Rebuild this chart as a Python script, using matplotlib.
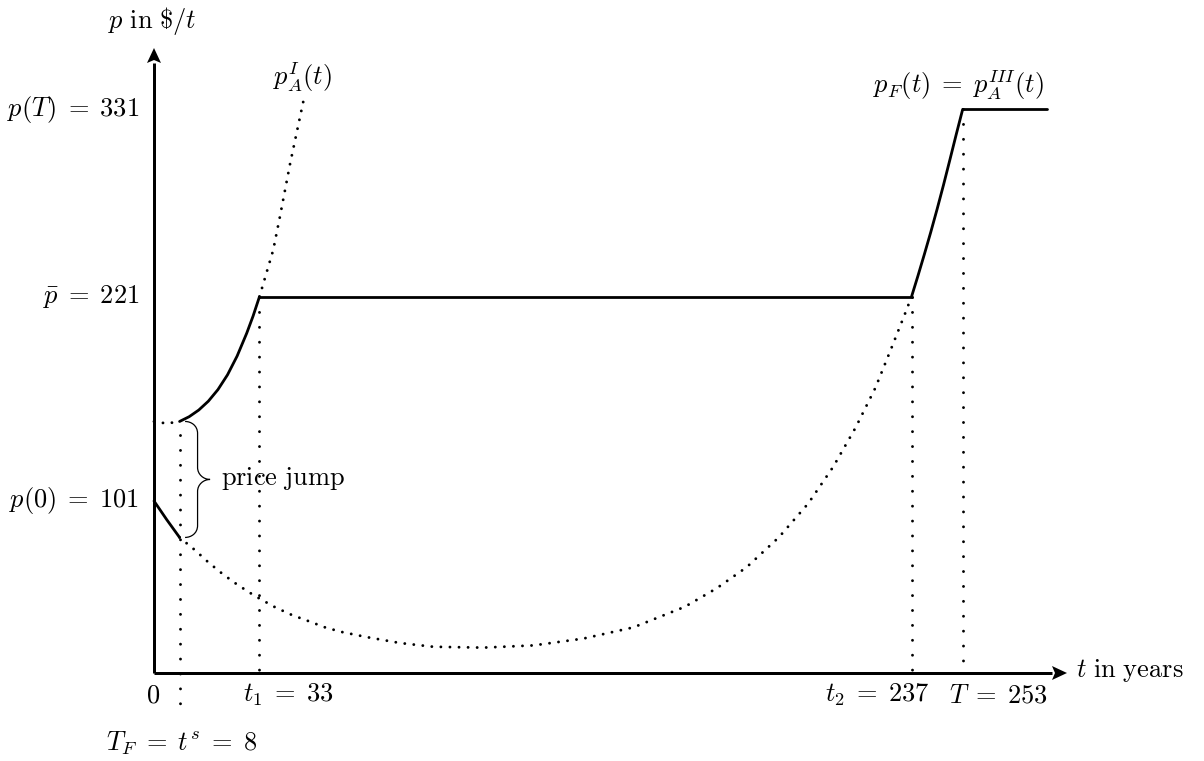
import matplotlib
matplotlib.use("Agg")
import matplotlib.pyplot as plt
from matplotlib.path import Path
from matplotlib.patches import PathPatch

plt.rcParams['mathtext.fontset'] = 'cm'
plt.rcParams['font.family'] = ['DejaVu Serif']

# ---------------- data ----------------
t_s, t_1, t_2, T_end = 8, 33, 237, 253
p_0, p_bar, p_T = 101, 221, 331

# p_A^I : dotted lead-in, solid part, dotted continuation
upI_lead_t = [0, 4, 8]
upI_lead_p = [147.7, 146.5, 147.7]
upI_solid_t = [8, 11, 14, 17, 20, 23, 26, 29, 31, 33]
upI_solid_p = [147.7, 150.5, 154.4, 159.6, 166.4, 175.1, 186.1, 199.5, 209.6, 221]
upI_ext_t = [33, 37.3, 39.4, 42.6, 46.7]
upI_ext_p = [221, 248.4, 268.0, 299.3, 335.5]

# initial solid segment from p(0)
low_solid_t = [0, 4, 8]
low_solid_p = [101, 90.0, 79.6]

# p_A^III : dotted U-shaped curve
lowIII_t = [8, 12.8, 17.0, 21.5, 25.9, 30.6, 33.2, 37.9, 43.1, 48.3, 53.5, 58.7,
            66.5, 77, 87.4, 103, 118.7, 134.3, 150, 166.1, 176, 185.4, 195.5,
            204.7, 212.5, 219.5, 225.7, 231, 235, 237]
lowIII_p = [79.6, 72.2, 65.0, 58.1, 52.1, 46.4, 43.5, 38.6, 34.1, 30.5, 26.8, 24.1,
            21.1, 17.6, 15.4, 14.9, 16.2, 20.2, 26.8, 38.9, 49.7, 62.1, 79.7,
            99.6, 121.1, 144.1, 167.5, 192.2, 211.2, 221]

# flat at p_bar, rise p_F = p_A^III, flat at p(T)
flat_t = [33, 237]
flat_p = [221, 221]
rise_t = [237, 239, 241, 243, 245, 247, 249, 251, 253]
rise_p = [221, 233.2, 245.8, 258.8, 272.4, 286.6, 301.4, 316.4, 331]
top_t = [253, 279.3]
top_p = [331, 331]

# ---------------- layout: data <-> pixel mapping ----------------
W, H = 1204, 761
X0, SX = 154.0, 3.1964   # pixel x of t=0, px per year
Y0, SY = 673.0, 1.703    # pixel y (from top) of p=0, px per $/t

def tx(px):
    return (px - X0) / SX

def py(pyx):
    return (Y0 - pyx) / SY

fig = plt.figure(figsize=(W / 100, H / 100), dpi=100)
ax = fig.add_axes([0, 0, 1, 1])
ax.set_xlim(tx(0), tx(W))
ax.set_ylim(py(H), py(0))
ax.axis('off')

solid_kw = dict(color='black', lw=2.0, solid_capstyle='round', solid_joinstyle='round')
dot_kw = dict(color='black', lw=2.1, linestyle=(0, (0.01, 3.1)), dash_capstyle='round')
vdot_kw = dict(color='black', lw=2.1, linestyle=(0, (0.01, 5.1)), dash_capstyle='round')

# axes with arrows
axis_lw = 2.15
x_tip, y_tip = tx(1067), py(48)
head_len_px, head_half_px = 15, 7
ax.plot([0, x_tip - head_len_px / SX], [0, 0], color='black', lw=axis_lw, solid_capstyle='butt')
ax.plot([0, 0], [0, y_tip - head_len_px / SY], color='black', lw=axis_lw, solid_capstyle='butt')
ax.plot([0, 0], [0, 0], color='black', lw=axis_lw)
ax.fill([x_tip, x_tip - head_len_px / SX, x_tip - 0.8 * head_len_px / SX, x_tip - head_len_px / SX],
        [0, head_half_px / SY, 0, -head_half_px / SY], color='black', lw=0)
ax.fill([0, head_half_px / SX, 0, -head_half_px / SX],
        [y_tip, y_tip - head_len_px / SY, y_tip - 0.8 * head_len_px / SY, y_tip - head_len_px / SY],
        color='black', lw=0)

# vertical dotted guides
ax.plot([t_s, t_s], [upI_lead_p[-1] - 8, py(712)], **vdot_kw)
ax.plot([t_1, t_1], [p_bar, 0], **vdot_kw)
ax.plot([t_2, t_2], [p_bar, 0], **vdot_kw)
ax.plot([T_end, T_end], [p_T, 0], **vdot_kw)

# dotted curves
ax.plot(upI_lead_t, upI_lead_p, **dot_kw)
ax.plot(upI_ext_t, upI_ext_p, **dot_kw)
ax.plot(lowIII_t, lowIII_p, **dot_kw)

# solid curves
ax.plot(upI_solid_t, upI_solid_p, **solid_kw)
ax.plot(low_solid_t, low_solid_p, **solid_kw)
ax.plot(flat_t, flat_p, **solid_kw)
ax.plot(rise_t, rise_p, **solid_kw)
ax.plot(top_t, top_p, **solid_kw)

# brace for the price jump (built in pixel offsets from t_s)
def P(dx, ypx):
    return (tx(X0 + t_s * SX + dx), py(ypx))

ytop = Y0 - upI_solid_p[0] * SY
ybot = Y0 - low_solid_p[-1] * SY
ymid = 0.5 * (ytop + ybot)
x_a, x_b, x_c = 5.5, 18, 30.5
verts = [P(x_a, ytop), P(x_a + 6, ytop), P(x_b, ytop + 4), P(x_b, ytop + 12),
         P(x_b, ymid - 12),
         P(x_b, ymid - 5), P(x_b + 6, ymid), P(x_c, ymid),
         P(x_b + 6, ymid), P(x_b, ymid + 5), P(x_b, ymid + 12),
         P(x_b, ybot - 12),
         P(x_b, ybot - 4), P(x_a + 6, ybot), P(x_a, ybot)]
codes = [Path.MOVETO, Path.CURVE4, Path.CURVE4, Path.CURVE4,
         Path.LINETO,
         Path.CURVE4, Path.CURVE4, Path.CURVE4,
         Path.CURVE4, Path.CURVE4, Path.CURVE4,
         Path.LINETO,
         Path.CURVE4, Path.CURVE4, Path.CURVE4]
ax.add_patch(PathPatch(Path(verts, codes), facecolor='none', edgecolor='black', lw=0.9))

# ---------------- texts ----------------
fs = 19
ax.text(tx(152.5), py(21), r'$p\ \mathrm{in}\ \$/t$', fontsize=fs, ha='center', va='center')
ax.text(tx(1076), py(671), r'$t\ \mathrm{in\ years}$', fontsize=fs, ha='left', va='center')

ax.text(tx(139), p_T, r'$p(T)\;=\;331$', fontsize=fs, ha='right', va='center')
ax.text(tx(139), p_bar, r'$\bar{p}\;=\;221$', fontsize=fs, ha='right', va='center')
ax.text(tx(139), p_0, r'$p(0)\;=\;101$', fontsize=fs, ha='right', va='center')

ax.text(tx(153), py(695), r'$0$', fontsize=fs, ha='center', va='center')
ax.text(tx(288), py(695), r'$t_1\;=\;33$', fontsize=fs, ha='center', va='center')
ax.text(tx(877), py(695), r'$t_2\;=\;237$', fontsize=fs, ha='center', va='center')
ax.text(tx(998), py(695), r'$T\;=\;253$', fontsize=fs, ha='center', va='center')
ax.text(tx(182), py(743), r'$T_F\;=\;t^s\;=\;8$', fontsize=fs, ha='center', va='center')

ax.text(tx(303), py(77), r'$p_A^I(t)$', fontsize=fs, ha='center', va='center')
ax.text(tx(958), py(85), r'$p_F(t)\;=\;p_A^{III}(t)$', fontsize=fs, ha='center', va='center')
ax.text(tx(221), py(479), r'$\mathrm{price\ jump}$', fontsize=fs, ha='left', va='center')

fig.savefig('out.png', dpi=100)
